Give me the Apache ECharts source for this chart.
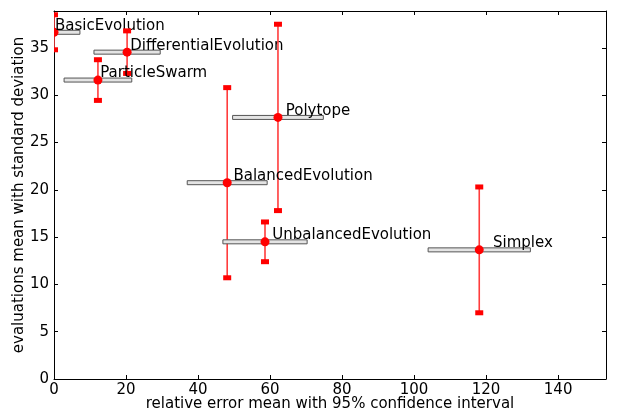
<!DOCTYPE html>
<html>
<head>
<meta charset="utf-8">
<script src="https://cdn.jsdelivr.net/npm/echarts@6/dist/echarts.min.js"></script>
<style>
html, body { margin: 0; padding: 0; background: #ffffff; }
#container { width: 618px; height: 415px; }
</style>
</head>
<body>
<div id="container"></div>
<script type="text/javascript">
// algorithms
var names = ['BasicEvolution', 'DifferentialEvolution', 'ParticleSwarm', 'Polytope',
             'BalancedEvolution', 'UnbalancedEvolution', 'Simplex'];
// relative error mean and half width of the 95% confidence interval
var errMean = [0.0, 20.3, 12.2, 62.2, 48.1, 58.6, 118.1];
var errCI   = [7.2, 9.2, 9.4, 12.6, 11.1, 11.7, 14.2];
// evaluations mean and standard deviation
var evalMean = [36.65, 34.55, 31.6, 27.65, 20.75, 14.5, 13.65];
var evalStd  = [1.85, 2.25, 2.15, 9.85, 10.05, 2.1, 6.65];

var xTicks = [0, 20, 40, 60, 80, 100, 120, 140];
var yTicks = [0, 5, 10, 15, 20, 25, 30, 35];

var font = 'DejaVu Sans';

var points = [];
for (var i = 0; i < names.length; i++) {
    points.push([errMean[i], evalMean[i], errCI[i], evalStd[i], names[i]]);
}

function renderItem(params, api) {
    var x = api.value(0), y = api.value(1), ci = api.value(2), sd = api.value(3);
    var c = api.coord([x, y]);
    var l = api.coord([x - ci, y]);
    var r = api.coord([x + ci, y]);
    var t = api.coord([x, y + sd]);
    var b = api.coord([x, y - sd]);
    var lab = api.coord([x * 1.03, y]);
    return {
        type: 'group',
        children: [
            { type: 'rect', shape: { x: l[0], y: c[1] - 2, width: r[0] - l[0], height: 4 },
              style: { fill: '#e4e4e4', stroke: '#555555', lineWidth: 1 } },
            { type: 'line', shape: { x1: t[0], y1: t[1], x2: b[0], y2: b[1] },
              style: { stroke: '#ff3c3c', lineWidth: 1.6 } },
            { type: 'rect', shape: { x: t[0] - 4, y: t[1] - 2.5, width: 8, height: 5 },
              style: { fill: '#ff0000' } },
            { type: 'rect', shape: { x: b[0] - 4, y: b[1] - 2.5, width: 8, height: 5 },
              style: { fill: '#ff0000' } },
            { type: 'circle', shape: { cx: c[0], cy: c[1], r: 4.5 },
              style: { fill: '#ff0000' } },
            { type: 'text', x: lab[0] + 1, y: c[1] + 1,
              style: { text: api.value(4), fill: '#000000', font: '15px "' + font + '"',
                       textAlign: 'left', textVerticalAlign: 'bottom' } }
        ]
    };
}

var axisBase = {
    type: 'value',
    axisLine: { show: true, onZero: false, lineStyle: { color: '#000000', width: 1 } },
    axisTick: { show: true, inside: true, length: 4, lineStyle: { color: '#000000' } },
    splitLine: { show: false }
};

var myChart = echarts.init(document.getElementById('container'));
var option = {
    animation: false,
    backgroundColor: '#ffffff',
    textStyle: { fontFamily: font },
    grid: { left: 54, right: 12, top: 11, bottom: 36, containLabel: false, outerBoundsMode: 'none' },
    xAxis: [
        Object.assign({}, axisBase, {
            position: 'bottom', min: 0, max: 153.3, interval: 20,
            axisLabel: { color: '#000000', fontSize: 15, margin: 4, showMaxLabel: false,
                         fontFamily: font },
            name: 'relative error mean with 95% confidence interval',
            nameLocation: 'middle', nameGap: 18, nameMoveOverlap: false,
            nameTextStyle: { color: '#000000', fontSize: 15, fontFamily: font }
        }),
        Object.assign({}, axisBase, {
            position: 'top', min: 0, max: 153.3, interval: 20,
            axisLabel: { show: false }
        })
    ],
    yAxis: [
        Object.assign({}, axisBase, {
            position: 'left', min: 0, max: 38.9, interval: 5,
            axisLabel: { color: '#000000', fontSize: 15, margin: 5, showMaxLabel: false,
                         fontFamily: font },
            name: 'evaluations mean with standard deviation',
            nameLocation: 'middle', nameGap: 27, nameRotate: 90, nameMoveOverlap: false,
            nameTextStyle: { color: '#000000', fontSize: 15, fontFamily: font }
        }),
        Object.assign({}, axisBase, {
            position: 'right', min: 0, max: 38.9, interval: 5,
            axisLabel: { show: false }
        })
    ],
    series: [
        {
            type: 'custom',
            renderItem: renderItem,
            clip: true,
            xAxisIndex: 0,
            yAxisIndex: 0,
            encode: { x: 0, y: 1 },
            data: points
        }
    ]
};
myChart.setOption(option);
</script>
</body>
</html>
